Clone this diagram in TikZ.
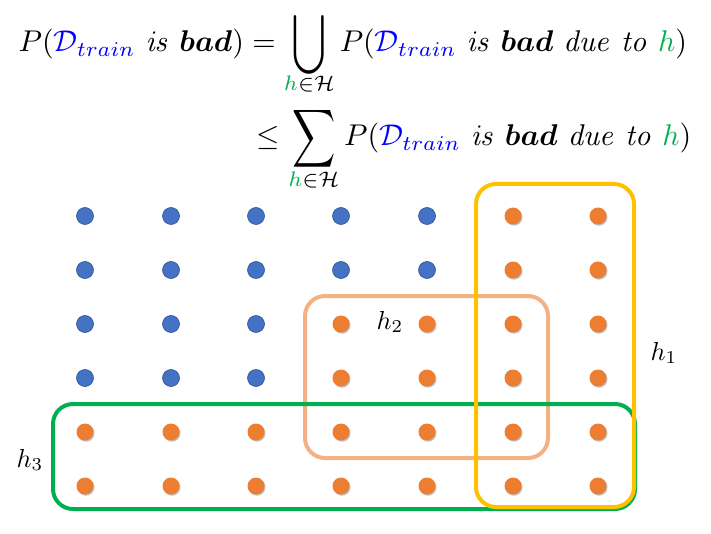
\documentclass[tikz,border=0pt]{standalone}
\usepackage{amsmath,amssymb}
\usetikzlibrary{shadows}
\definecolor{dotblue}{HTML}{4472C4}
\definecolor{dotblueedge}{HTML}{2F528F}
\definecolor{dotorange}{HTML}{ED7D31}
\definecolor{boxyellow}{HTML}{FFC000}
\definecolor{boxpeach}{HTML}{F4B183}
\definecolor{boxgreen}{HTML}{00B050}
\definecolor{dblue}{HTML}{0000FF}
\definecolor{hgreen}{HTML}{00B050}
\newcommand{\Dtr}{{\color{dblue}\mathcal{D}_{train}}}
\newcommand{\hh}{{\color{hgreen}h}}
\newcommand{\limtext}[1]{\raisebox{#1}[0pt][0pt]{$\scriptstyle\hh\in\mathcal{H}$}}
\newcommand{\myUnion}{\mathop{\vcenter{\hbox{\raisebox{2.5pt}{\scalebox{1}[1.4]{$\displaystyle\bigcup$}}}}}\limits}
\newcommand{\mySum}{\mathop{\vcenter{\hbox{\raisebox{-1pt}{\scalebox{1}[1.35]{$\displaystyle\sum$}}}}}\limits}
\begin{document}
\begin{tikzpicture}[x=1pt,y=-1pt,
  eqtext/.style={inner sep=0pt, scale=3.0},
  hlabel/.style={inner sep=0pt, scale=2.6},
  bluedot/.style={circle, minimum size=17pt, inner sep=0pt, fill=dotblue, draw=dotblueedge, line width=0.6pt},
  orangedot/.style={circle, minimum size=17pt, inner sep=0pt, fill=dotorange,
     drop shadow={shadow xshift=1pt, shadow yshift=-1.2pt, opacity=0.35, fill=black!70}},
  hbox/.style={rounded corners=20pt, line width=4pt}]
\useasboundingbox (0,0) rectangle (711,534);
% formula
\node[eqtext, anchor=base west] (eq1) at (18,52)
  {$P(\Dtr\ \mathit{is}\ \boldsymbol{bad}) = \myUnion_{\limtext{1.8pt}} P(\Dtr\ \mathit{is}\ \boldsymbol{bad}\ \mathit{due\ to}\ \hh)$};
\node[eqtext, anchor=base east] (eq2) at (692,146)
  {$\le \mySum_{\limtext{0.7pt}} P(\Dtr\ \mathit{is}\ \boldsymbol{bad}\ \mathit{due\ to}\ \hh)$};
% boxes
\draw[hbox, boxpeach] (305,296) rectangle (548,458);
\draw[hbox, boxgreen] (53,404) rectangle (635,509);
\draw[hbox, boxyellow] (476,184) rectangle (634,507);
% dots
\foreach \c/\x in {0/85,1/171,2/256,3/341,4/427,5/513,6/598}{
  \foreach \r/\y in {0/216,1/270,2/324,3/378,4/432,5/486}{
    \pgfmathtruncatemacro{\isblue}{(\r<2 && \c<5) || (\r<4 && \c<3) ? 1 : 0}
    \ifnum\isblue=1
      \node[bluedot] (d\r\c) at (\x,\y) {};
    \else
      \node[orangedot] (d\r\c) at (\x,\y) {};
    \fi
  }
}
% labels
\node[hlabel] (h1) at (664,353) {$h_1$};
\node[hlabel] (h2) at (390,322) {$h_2$};
\node[hlabel] (h3) at (30,460) {$h_3$};
\end{tikzpicture}
\end{document}
